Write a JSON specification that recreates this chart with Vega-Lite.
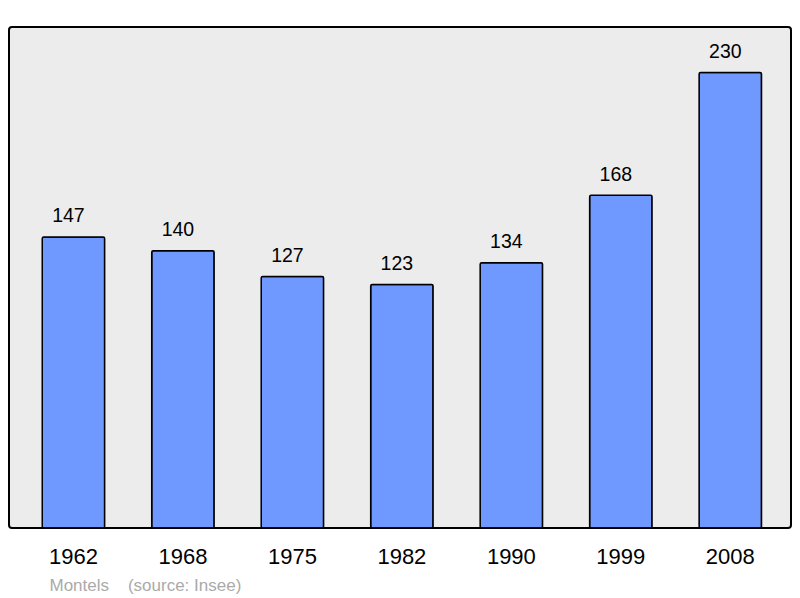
{
  "$schema": "https://vega.github.io/schema/vega-lite/v6.json",
  "width": 782,
  "height": 501,
  "autosize": "none",
  "padding": {"left": 9, "top": 27, "right": 9, "bottom": 70},
  "background": "white",
  "config": {
    "view": {"fill": "#ececec", "stroke": "black", "strokeWidth": 2, "cornerRadius": 3},
    "font": "Liberation Sans"
  },
  "data": {
    "values": [
      {"year": "1962", "pop": 147},
      {"year": "1968", "pop": 140},
      {"year": "1975", "pop": 127},
      {"year": "1982", "pop": 123},
      {"year": "1990", "pop": 134},
      {"year": "1999", "pop": 168},
      {"year": "2008", "pop": 230}
    ]
  },
  "encoding": {
    "x": {
      "field": "year", "type": "nominal", "sort": null,
      "scale": {"paddingInner": 0.43, "paddingOuter": 0.2865, "align": 0.53},
      "axis": {
        "domain": false, "ticks": false, "grid": false, "labelAngle": 0,
        "labelFontSize": 22, "labelColor": "black", "labelPadding": 18.5,
        "title": "Montels\u00a0\u00a0\u00a0\u00a0(source: Insee)",
        "titleColor": "#aaaaaa", "titleFontSize": 17, "titleFontWeight": "normal",
        "titleAnchor": "start", "titleAlign": "left", "titleX": 40, "titleY": 62,
        "titleBaseline": "alphabetic"
      }
    },
    "y": {
      "field": "pop", "type": "quantitative",
      "scale": {"domain": [0, 253], "nice": false},
      "axis": null
    }
  },
  "layer": [
    {
      "mark": {"type": "bar", "fill": "#7099ff", "stroke": "black", "strokeWidth": 1.5, "cornerRadius": 1.5}
    },
    {
      "mark": {"type": "text", "baseline": "alphabetic", "dy": -14.5, "dx": -5, "fontSize": 19.5, "color": "black"},
      "encoding": {"text": {"field": "pop", "type": "quantitative"}}
    }
  ]
}
